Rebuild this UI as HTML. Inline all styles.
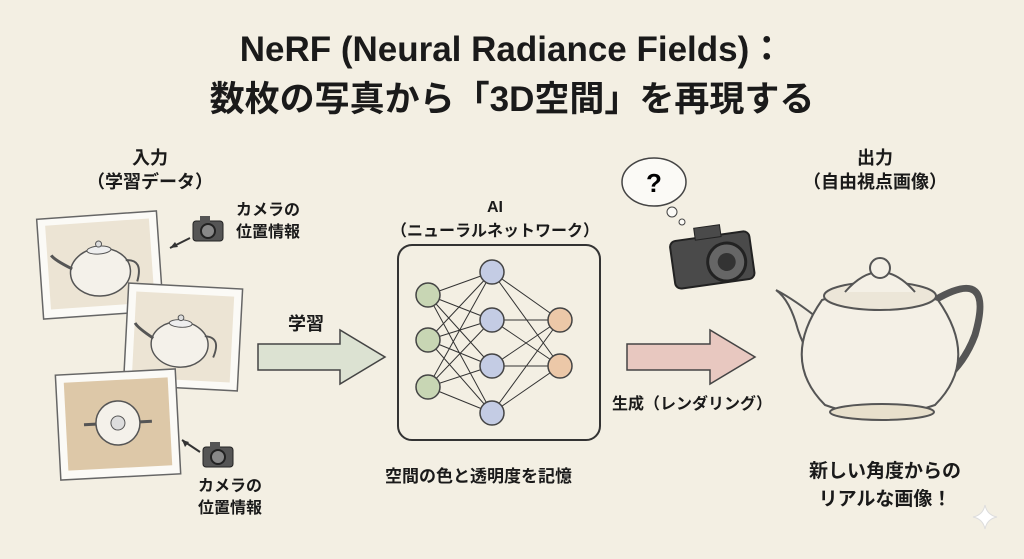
<!DOCTYPE html>
<html><head><meta charset="utf-8"><style>
html,body{margin:0;padding:0}
body{width:1024px;height:559px;background:#f3efe3;position:relative;overflow:hidden;font-family:"Liberation Sans","Noto Sans CJK JP",sans-serif;color:#1a1a1a}
.t{position:absolute;font-weight:bold;white-space:nowrap}
.c{text-align:center}
</style></head><body>
<div class="t c" style="left:0;width:1024px;top:25px;font-size:35px;line-height:50px">NeRF (Neural Radiance Fields)：<br>数枚の写真から「3D空間」を再現する</div>
<div class="t c" style="left:60px;width:180px;top:146px;font-size:18px;line-height:24px">入力<br>（学習データ）</div>
<div class="t" style="left:236px;top:200px;font-size:16px;line-height:22px">カメラの<br>位置情報</div>
<div class="t" style="left:198px;top:476px;font-size:16px;line-height:22px">カメラの<br>位置情報</div>
<div class="t" style="left:288px;top:310px;font-size:18px">学習</div>
<div class="t c" style="left:380px;width:230px;top:196px;font-size:16px;line-height:24px">AI<br>（ニューラルネットワーク）</div>
<div class="t" style="left:385px;top:462px;font-size:17px">空間の色と透明度を記憶</div>
<div class="t" style="left:612px;top:390px;font-size:16px">生成（レンダリング）</div>
<div class="t c" style="left:780px;width:190px;top:146px;font-size:18px;line-height:24px">出力<br>（自由視点画像）</div>
<div class="t c" style="left:770px;width:230px;top:458px;font-size:19px;line-height:28px">新しい角度からの<br>リアルな画像！</div>
<svg width="1024" height="559" style="position:absolute;left:0;top:0" xmlns="http://www.w3.org/2000/svg">
<defs>
<g id="pot"><ellipse cx="0" cy="10" rx="30" ry="24" fill="#f4f1ea" stroke="#555" stroke-width="1.5"/><path d="M-28 5 Q-45 -5 -48 -10" stroke="#555" stroke-width="3" fill="none"/><path d="M26 0 Q44 0 36 22" stroke="#555" stroke-width="2" fill="none"/><ellipse cx="0" cy="-12" rx="12" ry="4" fill="#eee" stroke="#555"/><circle cx="0" cy="-18" r="3" fill="#ddd" stroke="#555"/></g>
<g id="cam"><rect x="-15" y="-9" width="30" height="20" rx="3" fill="#555" stroke="#222"/><rect x="-8" y="-14" width="10" height="6" fill="#555"/><circle cx="0" cy="1" r="7" fill="#888" stroke="#222" stroke-width="2"/></g>
</defs>
<g transform="rotate(-4 100 265)"><rect x="40" y="215" width="120" height="100" fill="#fbfaf6" stroke="#666" stroke-width="1.5"/><rect x="48" y="222" width="104" height="84" fill="#ece4d4"/><use href="#pot" transform="translate(100 262)"/></g>
<g transform="rotate(3 183 337)"><rect x="126" y="286" width="114" height="102" fill="#fbfaf6" stroke="#666" stroke-width="1.5"/><rect x="134" y="294" width="98" height="86" fill="#ece4d4"/><use href="#pot" transform="translate(180 335) scale(0.95)"/></g>
<g transform="rotate(-3 118 424)"><rect x="58" y="372" width="120" height="105" fill="#fbfaf6" stroke="#666" stroke-width="1.5"/><rect x="66" y="380" width="104" height="88" fill="#ddc8a8"/><circle cx="118" cy="423" r="22" fill="#f4f1ea" stroke="#555" stroke-width="1.5"/><circle cx="118" cy="423" r="7" fill="#ddd" stroke="#555"/><path d="M96 423 H84 M140 423 H152" stroke="#555" stroke-width="3"/></g>
<use href="#cam" transform="translate(208 230)"/><path d="M190 238 L170 248" stroke="#333" stroke-width="2"/><path d="M170 248 l8 -1 l-3 -5z" fill="#333"/>
<use href="#cam" transform="translate(218 456)"/><path d="M200 452 L182 440" stroke="#333" stroke-width="2"/><path d="M182 440 l3 7 l4 -5z" fill="#333"/>
<path d="M258 344 H340 V330 L385 357 L340 384 V370 H258 Z" fill="#dce2d2" stroke="#444" stroke-width="1.5"/>
<path d="M627 344 H710 V330 L755 357 L710 384 V370 H627 Z" fill="#e8c8c0" stroke="#444" stroke-width="1.5"/>
<rect x="398" y="245" width="202" height="195" rx="14" fill="none" stroke="#333" stroke-width="2"/>
<g stroke="#333" stroke-width="1">
<path d="M428 295 L492 272 M428 295 L492 320 M428 295 L492 366 M428 295 L492 413 M428 340 L492 272 M428 340 L492 320 M428 340 L492 366 M428 340 L492 413 M428 387 L492 272 M428 387 L492 320 M428 387 L492 366 M428 387 L492 413 M492 272 L560 320 M492 272 L560 366 M492 320 L560 320 M492 320 L560 366 M492 366 L560 320 M492 366 L560 366 M492 413 L560 320 M492 413 L560 366"/>
</g>
<g stroke="#444" stroke-width="1.5">
<circle cx="428" cy="295" r="12" fill="#c8d6b4"/><circle cx="428" cy="340" r="12" fill="#c8d6b4"/><circle cx="428" cy="387" r="12" fill="#c8d6b4"/>
<circle cx="492" cy="272" r="12" fill="#c4cce4"/><circle cx="492" cy="320" r="12" fill="#c4cce4"/><circle cx="492" cy="366" r="12" fill="#c4cce4"/><circle cx="492" cy="413" r="12" fill="#c4cce4"/>
<circle cx="560" cy="320" r="12" fill="#ecc8a8"/><circle cx="560" cy="366" r="12" fill="#ecc8a8"/>
</g>
<ellipse cx="654" cy="182" rx="32" ry="24" fill="#fbfaf6" stroke="#444" stroke-width="1.5"/>
<text x="654" y="192" font-size="26" font-weight="bold" text-anchor="middle" font-family="Liberation Sans">?</text>
<circle cx="672" cy="212" r="5" fill="#fbfaf6" stroke="#444"/><circle cx="682" cy="222" r="3" fill="#fbfaf6" stroke="#444"/>
<g transform="translate(712 258) rotate(-8)"><rect x="-40" y="-22" width="80" height="48" rx="6" fill="#4a4a4a" stroke="#222" stroke-width="2"/><rect x="-14" y="-32" width="26" height="12" fill="#4a4a4a" stroke="#222"/><circle cx="14" cy="6" r="19" fill="#666" stroke="#222" stroke-width="3"/><circle cx="14" cy="6" r="9" fill="#333"/></g>
<g stroke="#555" stroke-width="2">
<path d="M820 320 Q795 300 776 290 Q790 300 798 330 Q808 360 826 368" fill="#f2ede2"/>
<path d="M935 300 Q995 265 975 335 Q962 370 932 388" fill="none" stroke-width="7"/>
<path d="M822 300 Q780 360 825 405 Q880 425 935 405 Q980 360 938 300 Q880 280 822 300Z" fill="#f4f0e6"/>
<ellipse cx="880" cy="296" rx="56" ry="14" fill="#ece6d8"/>
<path d="M845 292 Q880 252 915 292" fill="#f4f0e6"/>
<circle cx="880" cy="268" r="10" fill="#f4f0e6"/>
<ellipse cx="882" cy="412" rx="52" ry="8" fill="#e8e0cc"/>
</g>
<path d="M985 505 Q987 515 997 517 Q987 519 985 529 Q983 519 973 517 Q983 515 985 505Z" fill="#fff" stroke="#ddd"/>
</svg>
</body></html>
